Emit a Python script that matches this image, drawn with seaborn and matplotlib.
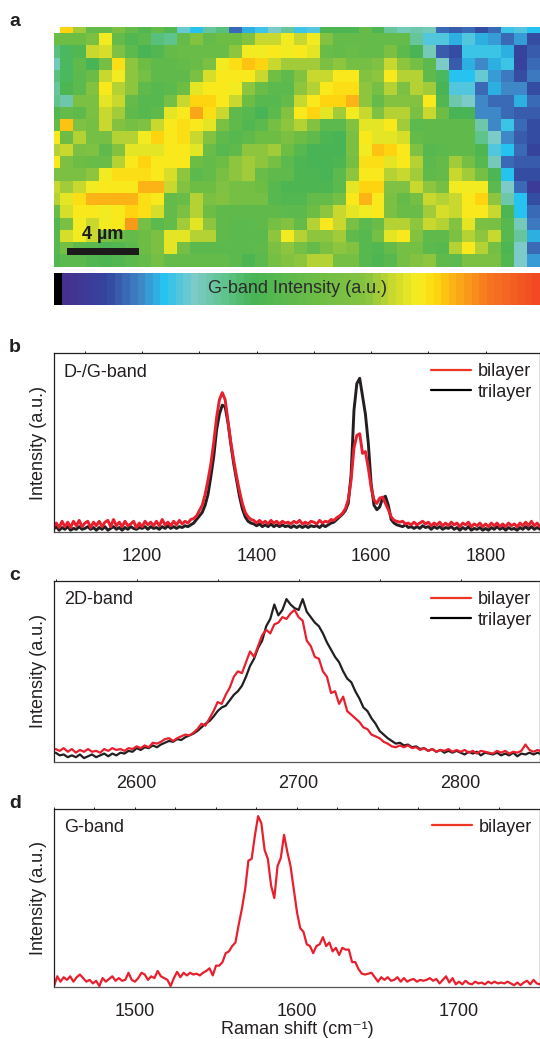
"""Raman map and spectra of graphene layers: G-band map with D/G, 2D and G-band panels."""

from matplotlib.colors import LinearSegmentedColormap
from matplotlib.lines import Line2D
from matplotlib.patches import Rectangle
from matplotlib.ticker import MultipleLocator
import matplotlib.pyplot as plt
import numpy as np
import seaborn as sns

# ── Map: colour-bar level of each cell (None = no data) ──────────────
MAP_ROWS = [
    [None, 50, 42, 32, 32, 38, 32, 28, 32, 28, 17, 14, 21, 23, 9, 13, 15, 18, 21, 15, 16, 27, 27, 27, 32, 27, 21, 19, 20, 19, 9, 8, 9, 7, 9, 15, 16, 14],
    [34, 34, 34, 38, 47, 32, 28, 30, 23, 22, 32, 40, 32, 34, 34, 40, 44, 44, 47, 44, 47, 40, 32, 32, 32, 32, 32, 32, 21, 16, 16, 13, 16, 13, 12, 9, 12, 7],
    [23, 25, 28, 44, 45, 39, 30, 26, 28, 32, 33, 33, 33, 33, 41, 47, 47, 48, 47, 48, 46, 33, 32, 33, 32, 32, 38, 30, 26, 19, 8, 7, 15, 15, 15, 13, 6, 8],
    [19, 25, 31, 26, 36, 49, 41, 34, 31, 31, 32, 33, 38, 47, 49, 51, 50, 44, 42, 42, 42, 38, 41, 36, 36, 39, 44, 41, 36, 30, 18, 8, 13, 11, 13, 15, 6, 9],
    [23, 25, 30, 33, 44, 47, 41, 36, 31, 31, 31, 38, 45, 48, 48, 48, 44, 35, 31, 40, 44, 44, 48, 48, 40, 41, 48, 43, 43, 31, 25, 14, 14, 17, 12, 10, 7, 10],
    [21, 27, 30, 40, 48, 43, 41, 31, 29, 30, 34, 46, 48, 48, 47, 41, 33, 30, 30, 41, 43, 48, 49, 49, 41, 36, 43, 38, 43, 42, 26, 16, 16, 9, 13, 11, 11, 7],
    [22, 20, 38, 38, 46, 44, 32, 29, 29, 36, 44, 50, 50, 48, 44, 34, 29, 29, 32, 44, 48, 50, 50, 52, 41, 32, 40, 40, 40, 48, 28, 20, 18, 11, 9, 9, 13, 9],
    [28, 32, 31, 38, 44, 42, 31, 29, 31, 46, 48, 53, 49, 44, 31, 29, 26, 30, 40, 48, 50, 46, 42, 47, 44, 39, 43, 43, 38, 44, 34, 26, 26, 11, 11, 9, 8, 8],
    [32, 51, 39, 36, 44, 40, 36, 39, 44, 48, 49, 48, 46, 38, 31, 28, 30, 36, 41, 43, 40, 30, 30, 40, 46, 46, 48, 42, 30, 31, 31, 31, 31, 20, 11, 15, 9, 7],
    [48, 34, 43, 36, 36, 43, 43, 47, 50, 48, 49, 44, 40, 31, 29, 31, 34, 34, 38, 34, 31, 27, 26, 38, 48, 46, 46, 45, 32, 31, 31, 31, 31, 22, 18, 11, 8, 7],
    [43, 44, 38, 39, 31, 40, 46, 46, 46, 48, 48, 46, 33, 29, 31, 41, 41, 42, 34, 29, 26, 26, 26, 38, 47, 51, 50, 48, 39, 29, 30, 31, 31, 27, 16, 14, 9, 6],
    [48, 38, 34, 33, 33, 43, 48, 50, 48, 48, 48, 34, 32, 34, 41, 42, 41, 36, 30, 27, 26, 26, 27, 36, 49, 49, 46, 48, 43, 30, 32, 42, 36, 29, 19, 9, 8, 8],
    [38, 38, 38, 41, 47, 49, 49, 49, 48, 45, 41, 30, 32, 37, 41, 42, 33, 31, 31, 27, 27, 26, 30, 41, 48, 48, 43, 44, 42, 31, 32, 44, 42, 36, 27, 14, 7, 7],
    [44, 42, 44, 47, 48, 48, 48, 52, 52, 44, 40, 34, 34, 39, 36, 36, 34, 29, 27, 27, 27, 27, 30, 46, 50, 50, 39, 39, 44, 41, 36, 47, 47, 47, 30, 18, 9, 4],
    [43, 46, 49, 52, 52, 52, 52, 49, 48, 32, 33, 43, 38, 40, 36, 36, 36, 29, 28, 28, 32, 32, 36, 48, 52, 48, 38, 32, 36, 44, 43, 44, 48, 50, 41, 20, 14, 7],
    [33, 45, 48, 48, 47, 48, 50, 49, 45, 32, 38, 43, 34, 31, 31, 31, 31, 31, 30, 30, 34, 41, 44, 46, 47, 48, 38, 33, 33, 42, 45, 44, 48, 48, 44, 27, 14, 9],
    [28, 38, 47, 44, 47, 48, 54, 36, 30, 32, 42, 46, 41, 31, 30, 30, 31, 36, 40, 32, 43, 48, 44, 37, 30, 33, 43, 43, 41, 44, 43, 40, 46, 38, 37, 29, 19, 10],
    [29, 45, 47, 44, 38, 34, 32, 34, 38, 46, 46, 43, 43, 31, 30, 30, 30, 41, 47, 43, 41, 41, 42, 31, 29, 36, 46, 48, 40, 31, 31, 38, 43, 41, 44, 29, 21, 13],
    [29, 36, 31, 30, 27, 28, 30, 34, 38, 46, 36, 30, 30, 30, 30, 30, 31, 38, 41, 36, 32, 38, 41, 40, 29, 28, 32, 36, 36, 30, 29, 43, 48, 43, 36, 27, 18, 9],
    [28, 30, 30, 28, 27, 28, 30, 32, 36, 32, 32, 32, 32, 32, 30, 27, 30, 36, 40, 41, 43, 43, 36, 36, 29, 27, 29, 36, 40, 41, 31, 30, 38, 38, 38, 28, 18, 12],
]
# colour-bar stops as (level, colour)
BAR_LEVELS = [0, 1, 6.5, 11, 14, 18, 22, 25.6, 33.8, 40.6, 44, 47.4, 50, 52, 56.5, 63]
BAR_COLORS = ["#000000", "#46308F", "#34459E", "#3F88C7", "#26C2F0", "#7CCBC8", "#5FC38C", "#47B456",
              "#6CBD45", "#85C241", "#C9D82E", "#F7EE1F", "#FED410", "#FBB316", "#F6781F", "#F04923"]

# ── Panel b: D-/G-band, 1045-1895 every 5 cm-1 ───────────────────────
B_BILAYER = [
    3, 5, 2.5, 6, 3, 5.5, 2.5, 6, 3.5, 6.5, 3,
    5, 6, 2.5, 5.5, 3.5, 6, 3, 5.5, 6.5, 3, 7, 3.5, 5.5, 3, 6, 3.5, 4.5, 6, 2.5, 5,
    3, 6, 4, 5.5, 3.5, 6, 3.5, 7, 4, 5.5, 3.5, 6, 4, 6.5, 4.5, 6, 5, 7, 7.5, 9,
    12, 15, 21, 29, 38, 50, 64, 74, 78, 74, 62, 50, 40, 31, 23, 16, 11, 8.5, 7, 6.5,
    5, 6.5, 5, 6, 4.5, 6.5, 5, 6, 4.5, 6, 5, 5.5, 4.5, 6, 5, 6.5, 4.5, 5.5, 4.5, 6,
    5.5, 4.5, 6.5, 5, 6, 5.5, 7, 6.5, 8, 9, 10.5, 13, 18, 29, 47, 54, 55, 44, 45, 36,
    25, 18, 16, 19, 19.5, 16, 12.5, 8.5, 6.5, 6, 5.5, 6, 4.5, 5, 4, 5.5, 4, 5, 6, 4.5,
    5.5, 3.5, 5, 4, 5.5, 3.5, 5, 3.5, 5.5, 4, 5, 3, 5, 4, 5.5, 3, 4.5, 3.5, 5, 3,
    4.5, 3, 5, 3.5, 5, 3, 4.5, 3, 5, 3.5, 4.5, 3, 5, 3.5, 5.5, 3.5, 6, 3.5, 5, 3,
]
B_TRILAYER = [
    1.5, 3, 1, 2.5, 1.5, 3, 1, 2, 1.5, 3, 1.5,
    2, 3, 1.5, 2.5, 1, 2.5, 1.5, 3, 1, 2, 3, 1.5, 2.5, 1, 2.5, 1.5, 3, 2, 1.5, 2.5,
    2, 3, 1.5, 3, 2, 2.5, 1.5, 3, 2, 3.5, 2, 3, 2, 3, 2.5, 3.5, 3, 4, 5, 7,
    9, 11, 15, 21, 31, 42, 57, 66, 71, 70, 61, 49, 38, 29, 20, 13, 8.5, 6, 5, 4.5,
    3.5, 4.5, 3, 4, 3, 4.5, 3, 4, 3, 4, 3, 3.5, 2.5, 3.5, 2.5, 3.5, 2.5, 3.5, 2.5, 3.5,
    3, 3.5, 2.5, 4, 3, 4, 5, 5.5, 7, 8.5, 10, 12, 16, 32, 68, 83, 86, 76, 66, 50,
    27, 15, 12.5, 14, 19, 20, 15, 7, 5, 4, 3.5, 3, 4, 2.5, 3, 2, 3, 2, 3.5, 2.5,
    3, 1.5, 3, 2, 3, 1.5, 2.5, 2, 3, 1.5, 2.5, 1, 2.5, 1.5, 3, 1, 2, 1.5, 2.5, 1,
    2, 1, 2.5, 1.5, 3, 1.5, 2.5, 1, 2.5, 1.5, 2, 1, 2.5, 1.5, 3, 1.5, 3, 1.5, 2.5, 1.5,
]

# ── Panel c: 2D-band, 2550-2850 every 2.5 cm-1 ───────────────────────
C_BILAYER = [
    7, 6, 7.5, 5.5, 7, 5, 6.5, 5.5, 7, 5.5, 6, 5, 7, 6, 7.5, 6.5, 7, 6, 7.5, 7,
    8.5, 7.5, 9, 8, 10.5, 10, 11, 12.5, 13, 11.5, 13, 14, 15, 14.5, 16, 18, 21, 20, 24, 28,
    33, 32, 37, 41, 47, 50, 49, 55, 61, 58, 64, 70, 73, 71, 76, 77, 80, 79, 82, 84,
    80, 78, 67, 64, 58, 57, 50, 47, 38, 39, 32, 36, 28, 26, 24, 22, 19, 18, 15, 14,
    13, 11, 10, 8.5, 8, 9, 8, 9, 7.5, 8, 6.5, 7.5, 6, 7, 5.5, 6.5, 6, 7, 5.5, 6.5,
    5.5, 6.5, 5, 6, 4.5, 6, 5.5, 5, 4.5, 6, 5, 6, 4.5, 5.5, 5, 6, 9.5, 6.5, 5.5, 6.5, 5.5,
]
C_TRILAYER = [
    5, 3.5, 4, 2.5, 3.5, 2.5, 4, 2, 3, 4, 2.5, 3.5, 4.5, 3, 4.5, 3.5, 5, 4.5, 6, 5.5,
    7.5, 6.5, 8, 7.5, 9, 8, 9.5, 10.5, 11.5, 11, 12.5, 12, 13.5, 14.5, 15.5, 17, 19, 21, 22.5, 25,
    28, 30, 31, 34, 37, 39, 42, 47, 53, 57, 63, 67, 75, 79, 87, 81, 84, 90, 87, 85,
    84, 90, 83, 80, 77, 75, 71, 66, 62, 58, 55, 50, 46, 44, 39, 35, 30, 28, 24, 21,
    17, 15, 13, 11.5, 10, 10.5, 9, 9.5, 8, 8.5, 7, 7.5, 6, 7, 5.5, 6.5, 5, 6, 5, 6,
    5, 4, 5.5, 4.5, 5.5, 3.5, 5, 4.5, 4, 5, 3.5, 4.5, 3.5, 5, 3, 4.5, 4, 5, 4, 5, 4,
]

# ── Panel d: G-band, 1450-1750 every 2 cm-1 ──────────────────────────
D_BILAYER = [
    0.5, 6, 3, 5.5, 4, 6, 3, 5.5, 7, 5, 3, 4, 2, 3.5, 0.5, 5, 3, 4.5, 6, 3.5, 5, 3.5, 4, 8, 4,
    3, 5, 8, 7, 4, 6, 5, 9, 6, 5, 4, 0.5, 5, 8.5, 5.5, 8, 6.5, 8, 7, 7.5, 6.5, 8, 9, 10.5, 6.5,
    12, 12, 14, 19, 20, 23, 25, 35, 44, 55, 71, 72, 85, 96, 92, 77, 72, 57, 50, 68, 72.5, 85.5, 76, 68, 55,
    42, 33, 31, 24, 23, 19, 23, 24, 28, 23, 25, 20, 22, 18, 22, 21, 21, 14, 14, 10, 7.5, 7, 7.5, 8, 5.5,
    3, 5.5, 4, 5.5, 3.5, 4, 5.5, 3, 5, 3, 4, 4.5, 3, 4, 3.5, 4, 5, 3.5, 4.5, 2, 4, 6, 2.5, 5, 1.5,
    3, 1.5, 3.5, 2, 1.5, 3, 2, 2.5, 1.5, 3, 2, 3, 2, 2.5, 2, 3, 2, 1, 2.5, 1, 2.5, 3.5, 1.5, 4, 2, 1.5,
]

B_SHIFT = np.arange(1045, 1900, 5)
C_SHIFT = np.arange(2550, 2852.5, 2.5)
D_SHIFT = np.arange(1450, 1752, 2)

_FIG_W, _FIG_H = 540, 1039
_INK = "#231F20"
_RED = "#E8202E"
_RED_KEY = "#EE3524"
_FONT = 13
_LW_KEY = 1.6


def axes_px(fig, left, top, right, bottom):
    """Axes placed by pixel edges, measured from the top-left corner."""
    return fig.add_axes(
        [left / _FIG_W, 1 - bottom / _FIG_H, (right - left) / _FIG_W, (bottom - top) / _FIG_H]
    )


def draw_spectrum(ax, shift, series, xlim, major, minor, band, lw):
    """One spectrum panel; series is a list of (values, colour) drawn in order."""
    for values, color in series:
        sns.lineplot(x=shift, y=values, color=color, linewidth=lw, estimator=None, ax=ax)
    ax.set_xlim(*xlim)
    ax.set_ylim(0, 100)
    ax.set_yticks([])
    ax.xaxis.set_major_locator(MultipleLocator(major))
    ax.xaxis.set_minor_locator(MultipleLocator(minor))
    ax.tick_params(axis="x", which="major", length=4.5, width=0.8, pad=7, labelsize=_FONT, color="#555555", labelcolor=_INK)
    ax.tick_params(axis="x", which="minor", length=2.2, width=0.8, color="#555555")
    for spine in ax.spines.values():
        spine.set_color(_INK)
        spine.set_linewidth(0.9)
    ax.spines["bottom"].set_color("#555555")
    # short marks along the top edge
    top = ax.secondary_xaxis("top")
    top.xaxis.set_major_locator(MultipleLocator(major))
    top.xaxis.set_minor_locator(MultipleLocator(minor))
    top.tick_params(axis="x", which="both", length=1.3, width=0.7, labeltop=False, color=_INK)
    top.spines["top"].set_visible(False)
    ax.set_ylabel("Intensity (a.u.)", fontsize=_FONT, color=_INK, labelpad=5)
    ax.text(0.02, 0.895, band, transform=ax.transAxes, fontsize=_FONT, color=_INK, va="center", ha="left")


def add_key(ax, with_trilayer=True):
    handles = [Line2D([], [], color=_RED_KEY, linewidth=_LW_KEY)]
    labels = ["bilayer"]
    if with_trilayer:
        handles.append(Line2D([], [], color="black", linewidth=_LW_KEY))
        labels.append("trilayer")
    ax.legend(
        handles, labels, loc="upper right", bbox_to_anchor=(0.983, 0.945), frameon=False,
        fontsize=_FONT, handlelength=2.2, handletextpad=0.35, labelspacing=0.2, borderpad=0.0,
        borderaxespad=0, labelcolor=_INK,
    )


sns.set_theme(style="white")
plt.rcParams["font.family"] = ["Liberation Sans", "DejaVu Sans"]

cmap = LinearSegmentedColormap.from_list(
    "gband", [(lv / 63, c) for lv, c in zip(BAR_LEVELS, BAR_COLORS)], N=64
)

fig = plt.figure(figsize=(_FIG_W / 100, _FIG_H / 100), dpi=100, facecolor="white")

# a: intensity map, with the first row and column cut in half
ax_map = axes_px(fig, 54, 27, 540, 266.7)
grid = np.array(MAP_ROWS, dtype=float)
sns.heatmap(grid, cmap=cmap, vmin=0, vmax=63, cbar=False, xticklabels=False, yticklabels=False, ax=ax_map)
ax_map.set_xlim(0.5, 38)
ax_map.set_ylim(20, 0.5)
ax_map.add_patch(Rectangle((0.0267, 0.05), 0.148, 0.03, transform=ax_map.transAxes, color="#1c1a1b", lw=0))
ax_map.text(0.101, 0.133, "4 µm", transform=ax_map.transAxes, fontsize=_FONT, fontweight="bold", color="#1c1a1b", ha="center", va="center")

ax_bar = axes_px(fig, 54, 272.7, 540, 305)
sns.heatmap(np.arange(64)[None, :], cmap=cmap, vmin=0, vmax=63, cbar=False, xticklabels=False, yticklabels=False, ax=ax_bar)
ax_bar.text(0.5, 0.5, "G-band Intensity (a.u.)", transform=ax_bar.transAxes, fontsize=_FONT, color="#2b2b2b", ha="center", va="center")

# b
ax_b = axes_px(fig, 54, 353.3, 540, 532)
draw_spectrum(ax_b, B_SHIFT, [(B_TRILAYER, _INK), (B_BILAYER, _RED)], (1046, 1895), 200, 100, "D-/G-band", 2.1)
add_key(ax_b)

# c
ax_c = axes_px(fig, 54, 581, 540, 761.7)
draw_spectrum(ax_c, C_SHIFT, [(C_TRILAYER, _INK), (C_BILAYER, _RED)], (2549, 2849), 100, 50, "2D-band", 1.6)
ax_c.tick_params(axis="x", which="major", pad=5)
add_key(ax_c)

# d
ax_d = axes_px(fig, 54, 809, 540, 987)
draw_spectrum(ax_d, D_SHIFT, [(D_BILAYER, _RED)], (1450, 1750), 100, 25, "G-band", 1.6)
add_key(ax_d, with_trilayer=False)
fig.text(297 / _FIG_W, 1 - 1029.5 / _FIG_H, "Raman shift (cm⁻¹)", fontsize=_FONT, color=_INK, ha="center", va="center")

for letter, y_px in zip("abcd", (22, 348, 575, 803)):
    fig.text(9 / _FIG_W, 1 - y_px / _FIG_H, letter, fontsize=14, fontweight="bold", color=_INK, ha="left", va="center")

fig.savefig("out.png", dpi=100, facecolor="white")
